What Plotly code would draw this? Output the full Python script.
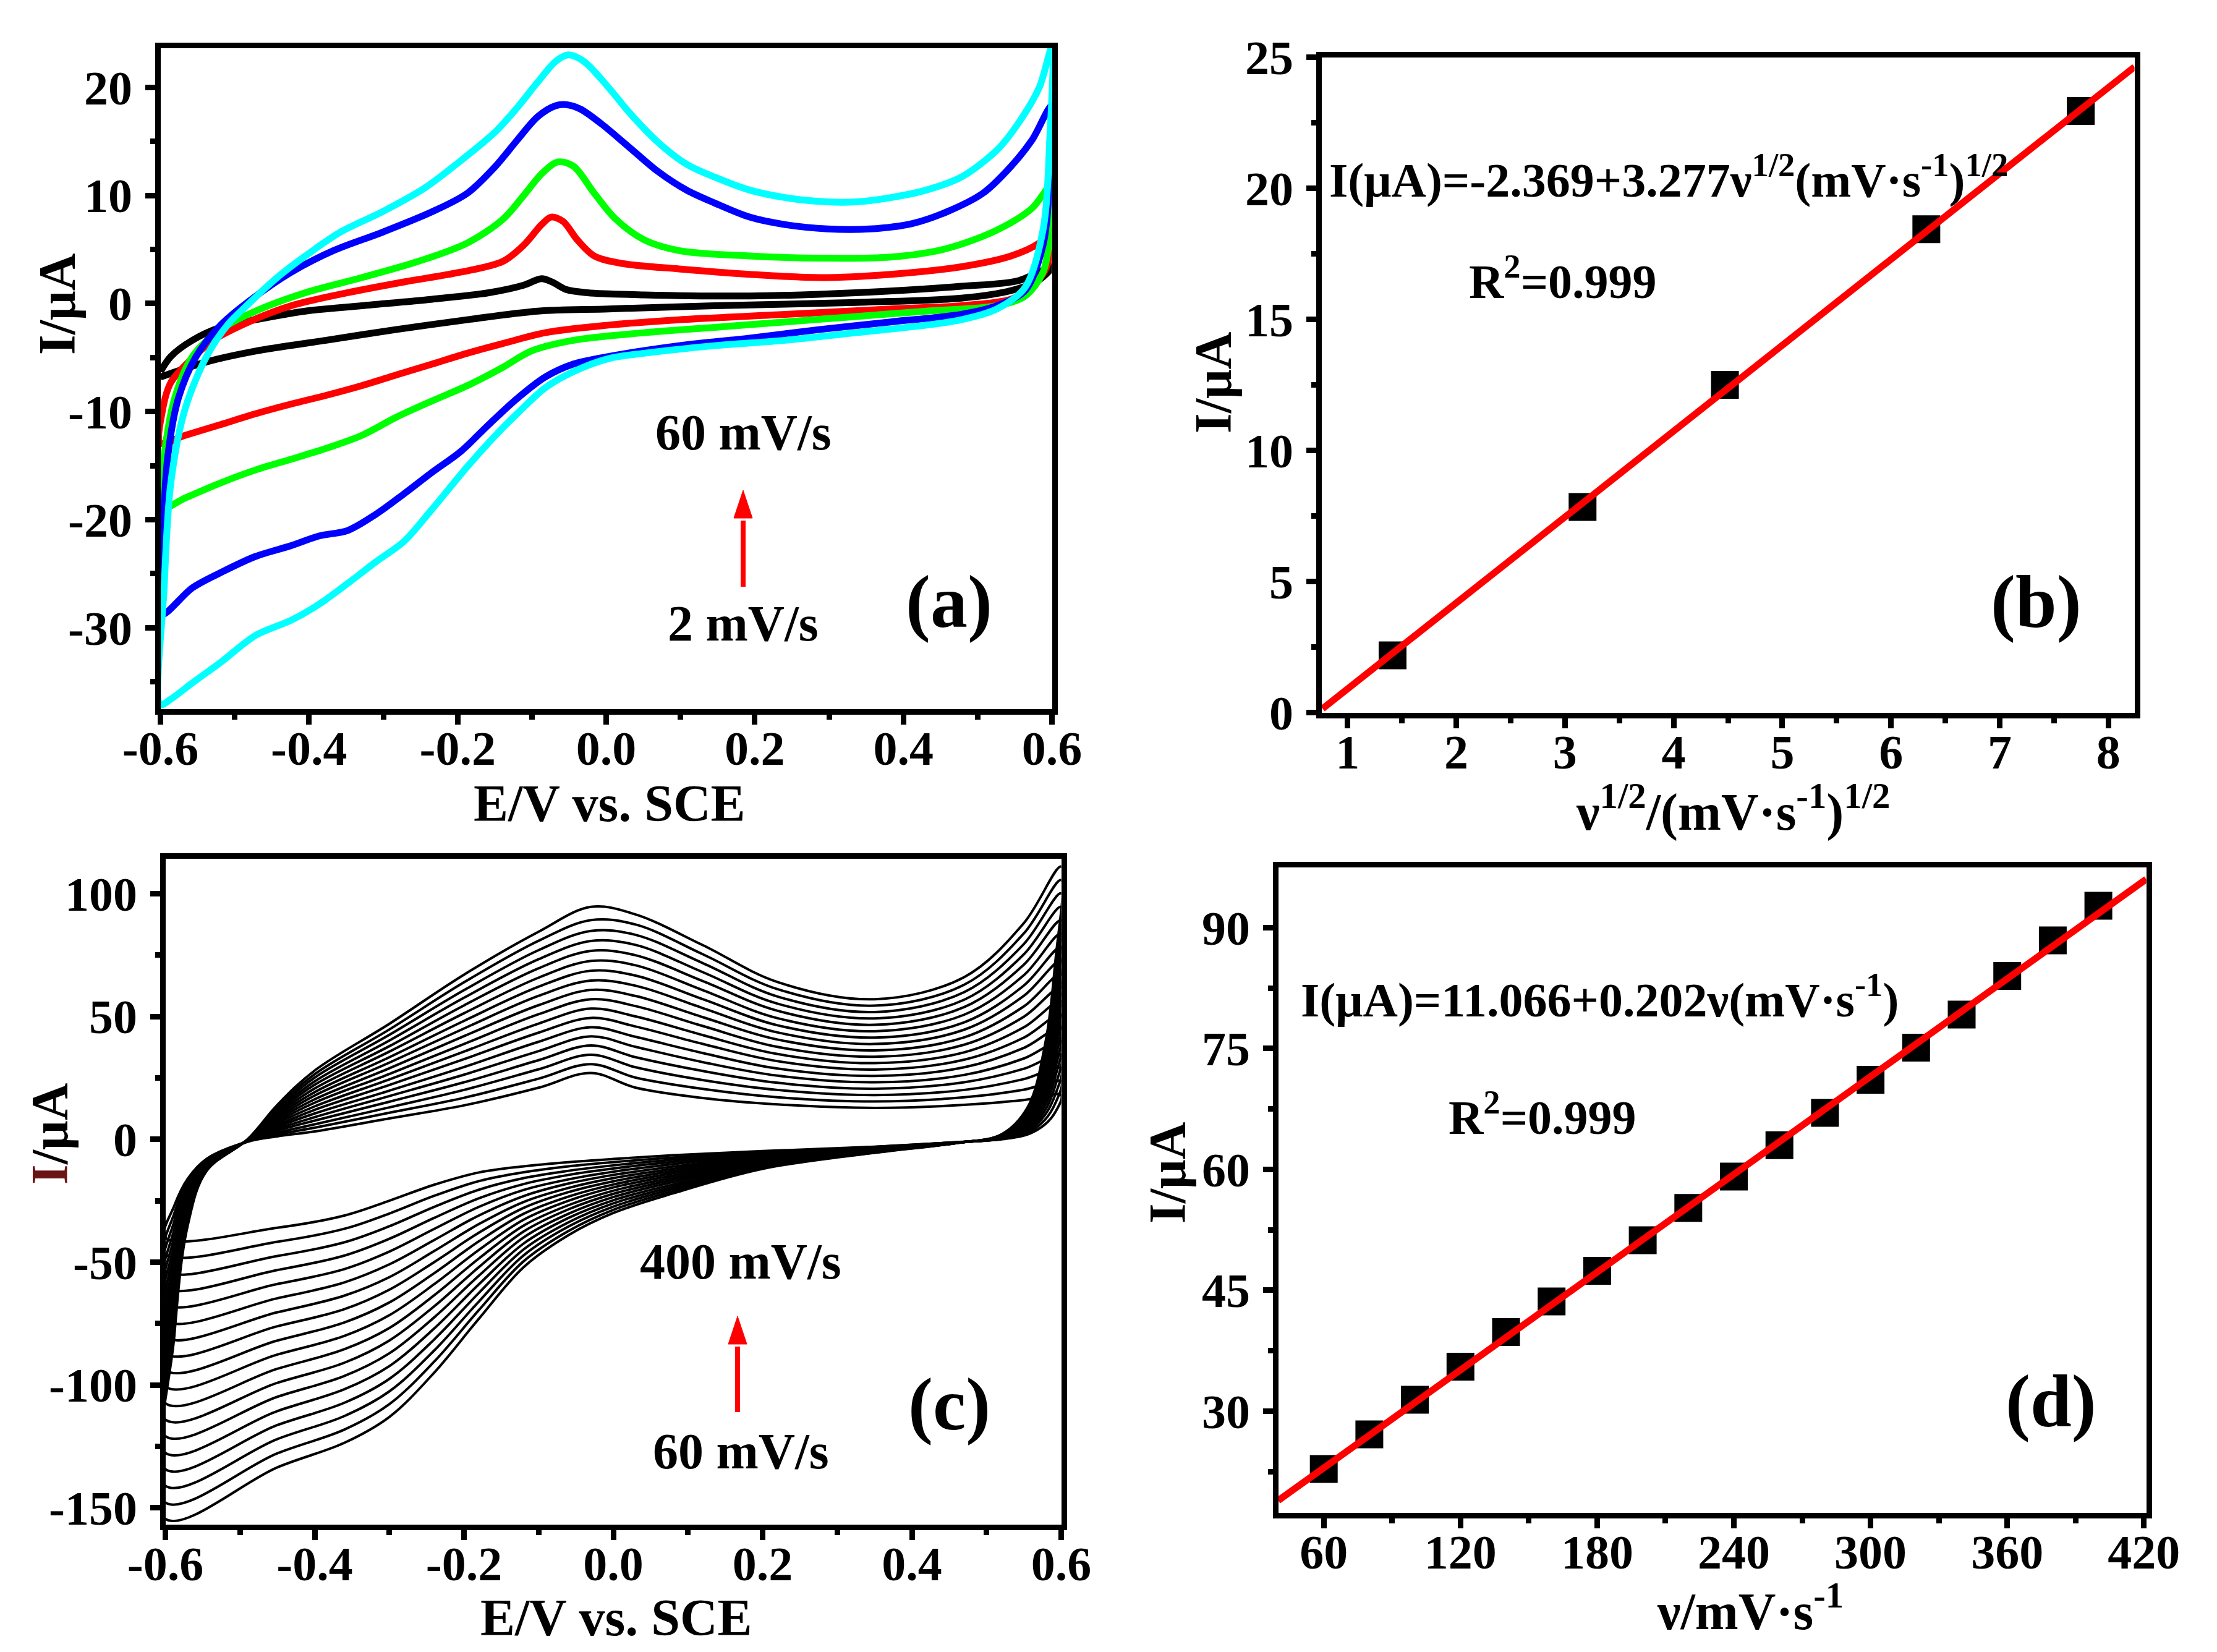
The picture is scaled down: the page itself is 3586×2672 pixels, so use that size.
import plotly.graph_objects as go

W, H = 3586, 2672
FONT = "Liberation Serif"

# ---------------- Panel (a): CVs at 2-60 mV/s ----------------
a_names = ["2 mV/s", "10 mV/s", "20 mV/s", "40 mV/s", "60 mV/s"]
a_colors = ["#000000", "#ff0000", "#00ff00", "#0000ff", "#00ffff"]

a_E_2 = [-0.6, -0.586, -0.557, -0.519, -0.472, -0.405, -0.329, -0.234, -0.158, -0.111, -0.087, -0.073, -0.054, -0.025,
         0.051, 0.193, 0.336, 0.478, 0.554, 0.6,
         0.583, 0.545, 0.478, 0.336, 0.146, 0.003, -0.092, -0.187, -0.282, -0.377, -0.472, -0.538, -0.6]
a_I_2 = [-6.3, -4.9, -3.4, -2.2, -1.5, -0.7, -0.2, 0.4, 1.0, 1.7, 2.3, 2.0, 1.3, 1.0,
         0.8, 0.7, 1.0, 1.6, 2.1, 3.4,
         2.2, 1.2, 0.5, 0.1, -0.2, -0.5, -0.7, -1.5, -2.4, -3.4, -4.4, -5.4, -6.8]

a_E_10 = [-0.6, -0.597, -0.586, -0.562, -0.529, -0.481, -0.424, -0.348, -0.272, -0.196, -0.139, -0.111, -0.087, -0.074,
          -0.058, -0.039, -0.016, 0.022, 0.098, 0.193, 0.288, 0.383, 0.478, 0.545, 0.583, 0.6,
          0.593, 0.573, 0.545, 0.478, 0.383, 0.241, 0.098, 0.003, -0.082, -0.139, -0.187, -0.234, -0.282, -0.329,
          -0.377, -0.424, -0.472, -0.519, -0.567, -0.6]
a_I_10 = [-12.9, -9.8, -7.3, -5.4, -3.4, -1.7, -0.2, 1.0, 2.0, 2.9, 3.9, 5.4, 7.3, 8.0,
          7.6, 5.9, 4.4, 3.7, 3.2, 2.7, 2.4, 2.7, 3.4, 4.4, 5.6, 6.8,
          3.4, 1.5, 0.4, -0.2, -0.5, -1.0, -1.5, -2.0, -2.7, -3.7, -4.6, -5.6, -6.6, -7.6,
          -8.5, -9.3, -10.2, -11.2, -12.2, -12.9]

a_E_20 = [-0.6, -0.595, -0.581, -0.557, -0.519, -0.472, -0.405, -0.329, -0.253, -0.187, -0.139, -0.111, -0.087, -0.065,
          -0.044, -0.016, 0.013, 0.051, 0.098, 0.193, 0.288, 0.383, 0.459, 0.526, 0.573, 0.6,
          0.597, 0.588, 0.564, 0.526, 0.431, 0.336, 0.241, 0.146, 0.051, -0.044, -0.101, -0.139, -0.187, -0.234,
          -0.282, -0.329, -0.377, -0.424, -0.472, -0.519, -0.567, -0.6]
a_I_20 = [-19.0, -14.1, -8.8, -4.9, -2.4, -0.7, 1.0, 2.4, 3.9, 5.6, 7.8, 10.0, 12.0, 13.1,
          12.7, 10.2, 7.8, 5.9, 4.9, 4.4, 4.2, 4.3, 5.1, 6.8, 8.8, 11.0,
          6.3, 2.9, 0.7, -0.2, -0.7, -1.2, -1.7, -2.2, -2.7, -3.4, -4.4, -5.9, -7.6, -9.0,
          -10.5, -12.2, -13.4, -14.4, -15.4, -16.6, -18.0, -19.0]

a_E_40 = [-0.6, -0.597, -0.59, -0.576, -0.552, -0.519, -0.481, -0.424, -0.367, -0.301, -0.234, -0.187, -0.149, -0.12,
          -0.092, -0.068, -0.054, -0.035, -0.006, 0.032, 0.07, 0.108, 0.146, 0.193, 0.241, 0.298, 0.355, 0.412,
          0.459, 0.507, 0.545, 0.573, 0.6,
          0.597, 0.588, 0.564, 0.526, 0.478, 0.383, 0.288, 0.193, 0.098, 0.003, -0.044, -0.082, -0.12, -0.158,
          -0.196, -0.234, -0.272, -0.31, -0.348, -0.386, -0.424, -0.472, -0.519, -0.557, -0.6]
a_I_40 = [-28.8, -21.5, -14.1, -8.8, -4.9, -2.0, 0.2, 2.9, 4.9, 6.6, 8.5, 10.2, 12.7, 15.1,
          17.3, 18.3, 18.4, 18.0, 16.6, 14.4, 12.2, 10.5, 9.3, 8.0, 7.3, 6.9, 6.9, 7.4,
          8.5, 10.2, 12.7, 15.1, 18.3,
          11.2, 5.4, 1.2, -0.2, -1.0, -1.7, -2.4, -3.2, -3.9, -4.9, -5.6, -6.8, -8.8, -11.2,
          -13.7, -15.6, -17.6, -19.5, -21.0, -21.5, -22.4, -23.4, -24.9, -26.3, -28.8]

a_E_60 = [-0.6, -0.595, -0.586, -0.567, -0.538, -0.51, -0.481, -0.443, -0.405, -0.358, -0.301, -0.244, -0.196, -0.149,
          -0.12, -0.092, -0.068, -0.051, -0.03, 0.003, 0.032, 0.07, 0.108, 0.146, 0.193, 0.241, 0.298, 0.336,
          0.383, 0.431, 0.478, 0.526, 0.554, 0.583, 0.6,
          0.597, 0.588, 0.564, 0.526, 0.478, 0.431, 0.336, 0.241, 0.146, 0.051, 0.003, -0.044, -0.082, -0.12,
          -0.149, -0.187, -0.234, -0.272, -0.31, -0.348, -0.386, -0.424, -0.472, -0.519, -0.557, -0.586, -0.6]
a_I_60 = [-37.1, -26.3, -16.6, -9.8, -4.9, -2.0, 0.0, 2.4, 4.4, 6.6, 8.5, 10.7, 13.2, 15.9,
          18.1, 20.5, 22.4, 23.0, 22.4, 20.0, 17.6, 14.9, 12.9, 11.7, 10.5, 9.8, 9.4, 9.4,
          9.8, 10.5, 11.7, 14.2, 16.6, 20.0, 23.7,
          15.1, 6.8, 1.5, -0.5, -1.5, -2.0, -2.7, -3.4, -3.9, -4.6, -5.1, -6.3, -7.8, -10.2,
          -12.2, -15.1, -19.0, -22.0, -23.9, -25.9, -27.8, -29.3, -30.7, -33.2, -35.1, -36.6, -37.1]

a_E = [a_E_2, a_E_10, a_E_20, a_E_40, a_E_60]
a_I = [a_I_2, a_I_10, a_I_20, a_I_40, a_I_60]

# ---------------- Panel (b): peak current vs sqrt(v) ----------------
b_x = [1.414, 3.162, 4.472, 6.325, 7.746]
b_y = [2.18, 7.84, 12.5, 18.44, 22.95]
b_fit_x = [0.77, 8.24]
b_fit_y = [0.15, 24.63]

# ---------------- Panel (c): CVs at 60-400 mV/s ----------------
c_rates = list(range(60, 401, 20))
c_E_up = [-0.6, -0.588, -0.57, -0.545, -0.49, -0.45, -0.4, -0.3, -0.2, -0.1, -0.03, 0.03, 0.12, 0.22, 0.35, 0.47, 0.55, 0.6]
c_E_lo = [0.592, 0.578, 0.555, 0.52, 0.46, 0.35, 0.2, 0.08, 0.0, -0.06, -0.12, -0.18, -0.24, -0.3, -0.36, -0.45]
c_I_up = [
    [-40, -27, -16, -8, -1, 1.2, 3.2, 8.5, 13.8, 21.0, 27.0, 21.0, 16.8, 14.2, 12.8, 14.0, 16.0, 18.0],
    [-46.7, -30.1, -17.1, -8.3, -0.9, 2.0, 4.7, 10.8, 16.9, 24.7, 30.6, 25.1, 20.5, 17.1, 15.4, 17.1, 20.2, 23.5],
    [-53.5, -33.2, -18.2, -8.6, -0.9, 2.7, 6.1, 13.0, 20.1, 28.5, 34.4, 29.3, 24.1, 20.1, 18.0, 20.1, 24.5, 28.9],
    [-60.2, -36.4, -19.4, -8.9, -0.8, 3.5, 7.6, 15.3, 23.2, 32.2, 38.2, 33.4, 27.8, 23.0, 20.6, 23.2, 28.7, 34.4],
    [-66.9, -39.5, -20.5, -9.2, -0.8, 4.2, 9.0, 17.6, 26.3, 35.9, 41.9, 37.6, 31.4, 25.9, 23.2, 26.2, 32.9, 39.9],
    [-73.7, -42.6, -21.6, -9.5, -0.7, 5.0, 10.5, 19.8, 29.4, 39.7, 45.6, 41.7, 35.1, 28.8, 25.8, 29.3, 37.2, 45.4],
    [-80.4, -45.7, -22.7, -9.8, -0.6, 5.7, 12.0, 22.1, 32.6, 43.4, 49.4, 45.9, 38.8, 31.8, 28.4, 32.4, 41.4, 50.8],
    [-87.1, -48.8, -23.8, -10.1, -0.6, 6.5, 13.4, 24.4, 35.7, 47.1, 53.2, 50.0, 42.4, 34.7, 31.0, 35.4, 45.6, 56.3],
    [-93.9, -51.9, -24.9, -10.4, -0.5, 7.2, 14.9, 26.6, 38.8, 50.9, 57.0, 54.2, 46.1, 37.6, 33.6, 38.5, 49.9, 61.8],
    [-100.6, -55.1, -26.1, -10.6, -0.5, 8.0, 16.3, 28.9, 42.0, 54.6, 60.8, 58.3, 49.7, 40.6, 36.2, 41.5, 54.1, 67.2],
    [-107.4, -58.2, -27.2, -10.9, -0.4, 8.7, 17.8, 31.2, 45.1, 58.4, 64.6, 62.5, 53.4, 43.5, 38.8, 44.6, 58.4, 72.7],
    [-114.1, -61.3, -28.3, -11.2, -0.4, 9.5, 19.2, 33.4, 48.2, 62.1, 68.6, 66.6, 57.0, 46.4, 41.4, 47.6, 62.6, 78.2],
    [-120.8, -64.4, -29.4, -11.5, -0.3, 10.2, 20.7, 35.7, 51.3, 65.8, 72.6, 70.8, 60.7, 49.3, 44.0, 50.7, 66.8, 83.7],
    [-127.6, -67.5, -30.5, -11.8, -0.2, 11.0, 22.2, 37.9, 54.5, 69.6, 76.7, 74.9, 64.4, 52.3, 46.6, 53.8, 71.1, 89.1],
    [-134.3, -70.7, -31.7, -12.1, -0.2, 11.7, 23.6, 40.2, 57.6, 73.3, 80.7, 79.1, 68.0, 55.2, 49.2, 56.8, 75.3, 94.6],
    [-141.0, -73.8, -32.8, -12.4, -0.1, 12.5, 25.1, 42.5, 60.7, 77.0, 84.8, 83.2, 71.7, 58.1, 51.8, 59.9, 79.5, 100.1],
    [-147.8, -76.9, -33.9, -12.7, -0.1, 13.2, 26.5, 44.7, 63.9, 80.8, 89.2, 87.4, 75.3, 61.1, 54.4, 62.9, 83.8, 105.5],
    [-154.5, -80.0, -35.0, -13.0, 0.0, 14.0, 28.0, 47.0, 67.0, 84.5, 94.6, 91.5, 79.0, 64.0, 57.0, 66.0, 88.0, 111.0],
]
c_I_lo = [
    [11.0, 6.0, 2.0, 0.0, -1.2, -3.0, -4.8, -6.5, -8.0, -9.3, -11.0, -13.5, -18.5, -25.0, -31.0, -36.0],
    [14.6, 7.9, 2.6, 0.1, -1.2, -3.1, -5.2, -7.4, -9.3, -11.0, -13.4, -17.0, -23.0, -30.2, -36.4, -41.7],
    [18.2, 9.8, 3.3, 0.2, -1.2, -3.3, -5.6, -8.3, -10.6, -12.8, -15.8, -20.5, -27.5, -35.4, -41.9, -47.5],
    [21.8, 11.6, 3.9, 0.4, -1.3, -3.4, -6.1, -9.2, -11.9, -14.5, -18.2, -24.0, -32.0, -40.5, -47.3, -53.2],
    [25.4, 13.5, 4.6, 0.5, -1.3, -3.6, -6.5, -10.1, -13.2, -16.3, -20.6, -27.5, -36.5, -45.7, -52.8, -58.9],
    [28.9, 15.4, 5.2, 0.6, -1.3, -3.7, -6.9, -11.1, -14.5, -18.0, -23.1, -31.0, -41.0, -50.9, -58.2, -64.7],
    [32.5, 17.3, 5.9, 0.7, -1.3, -3.9, -7.3, -12.0, -15.8, -19.8, -25.5, -34.5, -45.5, -56.1, -63.6, -70.4],
    [36.1, 19.2, 6.5, 0.8, -1.3, -4.0, -7.8, -12.9, -17.1, -21.5, -27.9, -38.0, -50.0, -61.2, -69.1, -76.1],
    [39.7, 21.1, 7.2, 0.9, -1.3, -4.2, -8.2, -13.8, -18.4, -23.3, -30.3, -41.5, -54.5, -66.4, -74.5, -81.9],
    [43.3, 22.9, 7.8, 1.1, -1.4, -4.3, -8.6, -14.7, -19.6, -25.0, -32.7, -45.0, -59.0, -71.6, -80.0, -87.6],
    [46.9, 24.8, 8.5, 1.2, -1.4, -4.5, -9.0, -15.6, -20.9, -26.8, -35.1, -48.5, -63.5, -76.8, -85.4, -93.4],
    [50.5, 26.7, 9.1, 1.3, -1.4, -4.6, -9.5, -16.5, -22.2, -28.5, -37.5, -52.0, -68.0, -81.9, -90.9, -99.1],
    [54.1, 28.6, 9.8, 1.4, -1.4, -4.8, -9.9, -17.4, -23.5, -30.3, -39.9, -55.5, -72.5, -87.1, -96.3, -104.8],
    [57.6, 30.5, 10.4, 1.5, -1.4, -4.9, -10.3, -18.4, -24.8, -32.0, -42.4, -59.0, -77.0, -92.3, -101.7, -110.6],
    [61.2, 32.3, 11.1, 1.7, -1.5, -5.1, -10.7, -19.3, -26.1, -33.8, -44.8, -62.5, -81.5, -97.5, -107.2, -116.3],
    [64.8, 34.2, 11.7, 1.8, -1.5, -5.2, -11.2, -20.2, -27.4, -35.5, -47.2, -66.0, -86.0, -102.6, -112.6, -122.0],
    [68.4, 36.1, 12.4, 1.9, -1.5, -5.4, -11.6, -21.1, -28.7, -37.3, -49.6, -69.5, -90.5, -107.8, -118.1, -127.8],
    [72.0, 38.0, 13.0, 2.0, -1.5, -5.5, -12.0, -22.0, -30.0, -39.0, -52.0, -73.0, -95.0, -113.0, -123.5, -133.5],
]

# ---------------- Panel (d): peak current vs v ----------------
d_x = [60, 80, 100, 120, 140, 160, 180, 200, 220, 240, 260, 280, 300, 320, 340, 360, 380, 400]
d_y = [22.8, 27.1, 31.4, 35.5, 39.8, 43.6, 47.4, 51.2, 55.2, 59.1, 63.0, 67.0, 71.1, 75.1, 79.2, 84.0, 88.4, 92.7]
d_fit_x = [40, 421]
d_fit_y = [18.9, 96.0]

# ---------------- tick labels ----------------
E_ticks = [-0.6, -0.4, -0.2, 0.0, 0.2, 0.4, 0.6]
E_ticktext = ["-0.6", "-0.4", "-0.2", "0.0", "0.2", "0.4", "0.6"]
E_minor = [-0.5, -0.3, -0.1, 0.1, 0.3, 0.5]
a_yticks = [-30, -20, -10, 0, 10, 20]
a_yticktext = ["-30", "-20", "-10", "0", "10", "20"]
a_yminor = [-35, -25, -15, -5, 5, 15]
b_xticks = [1, 2, 3, 4, 5, 6, 7, 8]
b_xticktext = ["1", "2", "3", "4", "5", "6", "7", "8"]
b_xminor = [1.5, 2.5, 3.5, 4.5, 5.5, 6.5, 7.5]
b_yticks = [0, 5, 10, 15, 20, 25]
b_yticktext = ["0", "5", "10", "15", "20", "25"]
b_yminor = [2.5, 7.5, 12.5, 17.5, 22.5]
c_yticks = [-150, -100, -50, 0, 50, 100]
c_yticktext = ["-150", "-100", "-50", "0", "50", "100"]
c_yminor = [-125, -75, -25, 25, 75]
d_xticks = [60, 120, 180, 240, 300, 360, 420]
d_xticktext = ["60", "120", "180", "240", "300", "360", "420"]
d_xminor = [90, 150, 210, 270, 330, 390]
d_yticks = [30, 45, 60, 75, 90]
d_yticktext = ["30", "45", "60", "75", "90"]
d_yminor = [22.5, 37.5, 52.5, 67.5, 82.5]

# ---------------- figure ----------------
fig = go.Figure()

for E, I, col, nm in zip(a_E, a_I, a_colors, a_names):
    fig.add_trace(go.Scatter(x=E, y=I, mode="lines", name=nm, xaxis="x", yaxis="y",
                             line=dict(color=col, width=11, shape="spline", smoothing=0.9)))

fig.add_trace(go.Scatter(x=b_x, y=b_y, mode="markers", xaxis="x2", yaxis="y2",
                         marker=dict(symbol="square", size=45, color="black")))
fig.add_trace(go.Scatter(x=b_fit_x, y=b_fit_y, mode="lines", xaxis="x2", yaxis="y2",
                         line=dict(color="#ff0000", width=11)))

for k, rate in enumerate(c_rates):
    xs = c_E_up + c_E_lo + [c_E_up[0]]
    ys = c_I_up[k] + c_I_lo[k] + [c_I_up[k][0]]
    fig.add_trace(go.Scatter(x=xs, y=ys, mode="lines", name=f"{rate} mV/s", xaxis="x3", yaxis="y3",
                             line=dict(color="black", width=4, shape="spline", smoothing=1.0)))

fig.add_trace(go.Scatter(x=d_x, y=d_y, mode="markers", xaxis="x4", yaxis="y4",
                         marker=dict(symbol="square", size=45, color="black")))
fig.add_trace(go.Scatter(x=d_fit_x, y=d_fit_y, mode="lines", xaxis="x4", yaxis="y4",
                         line=dict(color="#ff0000", width=11)))


def dx(l, r):
    return [(l + 4.5) / W, (r - 4.5) / W]


def dy(t, b):
    return [1 - (b - 4.5) / H, 1 - (t + 4.5) / H]


def axis(domain, rng, tv, tt, mv, anchor, standoff):
    return dict(domain=domain, range=rng, anchor=anchor, tickmode="array", tickvals=tv, ticktext=tt,
                automargin=False, ticklabelstandoff=standoff,
                showline=True, mirror=True, linecolor="black", linewidth=9,
                ticks="outside", ticklen=16, tickwidth=9, tickcolor="black",
                showgrid=False, zeroline=False, fixedrange=True,
                tickfont=dict(family=FONT, size=78, color="black", weight="bold"),
                minor=dict(tickmode="array", tickvals=mv, ticks="outside", ticklen=8, tickwidth=9,
                           tickcolor="black", showgrid=False))


XS, YS = -28, 5
layout = dict(
    width=W, height=H, margin=dict(l=0, r=0, t=0, b=0, autoexpand=False),
    paper_bgcolor="white", plot_bgcolor="white", showlegend=False,
    font=dict(family=FONT, size=80, color="black", weight="bold"),
    xaxis=axis(dx(247, 1698), [-0.6, 0.6], E_ticks, E_ticktext, E_minor, "y", XS),
    yaxis=axis(dy(65, 1143), [-37.5, 23.65], a_yticks, a_yticktext, a_yminor, "x", YS),
    xaxis2=axis(dx(2125, 3449), [0.76, 8.24], b_xticks, b_xticktext, b_xminor, "y2", XS),
    yaxis2=axis(dy(80, 1149), [0, 25], b_yticks, b_yticktext, b_yminor, "x2", YS),
    xaxis3=axis(dx(255, 1713), [-0.6, 0.6], E_ticks, E_ticktext, E_minor, "y3", XS),
    yaxis3=axis(dy(1376, 2462), [-156.7, 114.3], c_yticks, c_yticktext, c_yminor, "x3", YS),
    xaxis4=axis(dx(2055, 3468), [40, 421], d_xticks, d_xticktext, d_xminor, "y4", XS),
    yaxis4=axis(dy(1390, 2443), [17.4, 97.5], d_yticks, d_yticktext, d_yminor, "x4", YS),
)
fig.update_layout(**layout)


def txt(s, cx, cy, size, xanchor="center", angle=0):
    return dict(text=s, x=cx / W, y=1 - cy / H, xref="paper", yref="paper", showarrow=False,
                xanchor=xanchor, yanchor="middle", textangle=angle,
                font=dict(family=FONT, size=size, color="black", weight="bold"))


ann = [
    # axis titles
    txt("E/V vs. SCE", 978, 1292, 84),
    txt("I/μA", 84, 484, 84, angle=-90),
    txt("ν<sup>1/2</sup>/(mV·s<sup>-1</sup>)<sup>1/2</sup>", 2795, 1300, 84),
    txt("I/μA", 1954, 610, 84, angle=-90),
    txt("E/V vs. SCE", 989, 2608, 84),
    txt("<span style='color:#6b1414'>I</span>/μA", 72, 1826, 84, angle=-90),
    txt("ν/mV·s<sup>-1</sup>", 2823, 2592, 84),
    txt("I/μA", 1880, 1889, 84, angle=-90),
    # panel (a)
    txt("60 mV/s", 1194, 691, 82),
    txt("2 mV/s", 1194, 1000, 82),
    txt("(a)", 1527, 966, 120),
    # panel (b)
    txt("I(μA)=-2.369+3.277ν<sup>1/2</sup>(mV·s<sup>-1</sup>)<sup>1/2</sup>", 2140, 277, 78, xanchor="left"),
    txt("R<sup>2</sup>=0.999", 2520, 441, 78),
    txt("(b)", 3285, 966, 120),
    # panel (c)
    txt("400 mV/s", 1190, 2032, 82),
    txt("60 mV/s", 1190, 2339, 82),
    txt("(c)", 1527, 2263, 120),
    # panel (d)
    txt("I(μA)=11.066+0.202ν(mV·s<sup>-1</sup>)", 2094, 1603, 78, xanchor="left"),
    txt("R<sup>2</sup>=0.999", 2487, 1794, 78),
    txt("(d)", 3309, 2258, 120),
]
fig.update_layout(annotations=ann)


def arrow(x, tail, base, tip, half=15):
    X = x / W
    return [
        dict(type="line", xref="paper", yref="paper", x0=X, x1=X, y0=1 - tail / H, y1=1 - (base + 4) / H,
             line=dict(color="#ff0000", width=8)),
        dict(type="path", xref="paper", yref="paper", fillcolor="#ff0000", line=dict(color="#ff0000", width=1),
             path=f"M {(x - half) / W},{1 - base / H} L {(x + half) / W},{1 - base / H} L {X},{1 - tip / H} Z"),
    ]


fig.update_layout(shapes=arrow(1194, 941, 830, 785) + arrow(1185, 2276, 2166, 2121))

fig.write_html("out.html")
